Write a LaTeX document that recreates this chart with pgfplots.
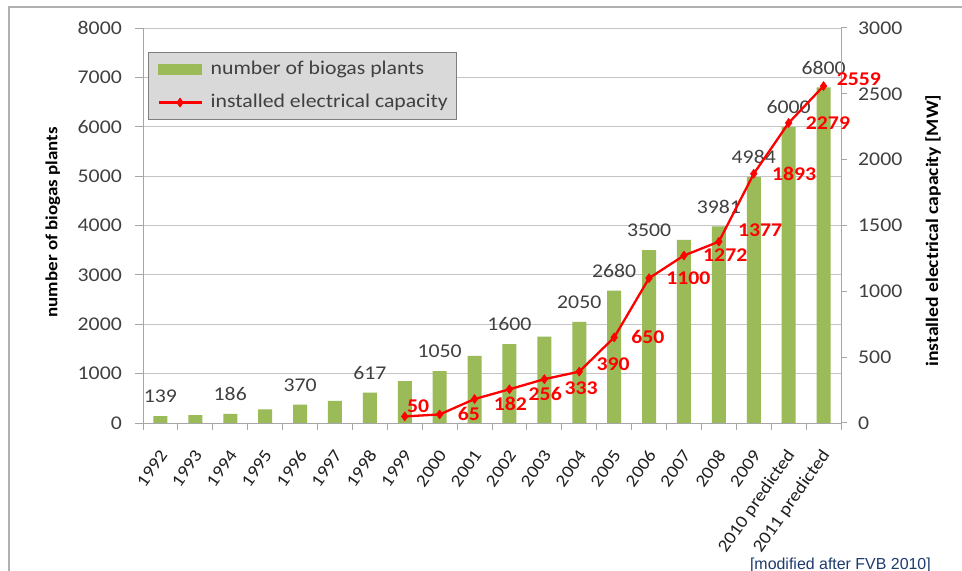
\documentclass[border=0pt]{standalone}
\usepackage{pgfplots}
\pgfplotsset{compat=1.18}
\usepackage{fontspec}
\setmainfont{Carlito}[FakeStretch=1.12]
\newfontfamily\creditfont{Liberation Sans}
\definecolor{bargreen}{HTML}{9BBB59}
\definecolor{axisgrey}{HTML}{A6A6A6}
\definecolor{gridgrey}{HTML}{C4C4C4}
\definecolor{tickcol}{HTML}{404040}
\definecolor{legfill}{HTML}{D9D9D9}
\definecolor{legdraw}{HTML}{7F7F7F}
\definecolor{framegrey}{HTML}{B0B0B0}
\definecolor{creditblue}{HTML}{1F3A6E}
\definecolor{capred}{HTML}{FF0000}

\pgfplotsset{
  /pgf/number format/1000 sep={},
  /pgf/number format/assume math mode=true,
  commonaxis/.style={
    at={(143bp,148bp)}, anchor=south west,
    scale only axis, width=698bp, height=395bp,
    xmin=-0.5, xmax=19.5,
    axis line style={draw=axisgrey, line width=1bp, -},
    tick style={draw=axisgrey, line width=1bp},
    tick align=outside,
    every tick label/.append style={font=\fontsize{19.5}{23}\selectfont, text=tickcol},
  },
  linelegend/.style={legend image code/.code={\draw[capred, line width=2.3bp, mark=diamond*, mark size=4.5bp, mark options={solid, line width=0.5bp, fill=capred}, mark repeat=2, mark phase=2] plot coordinates {(0bp,0bp) (21.5bp,0bp) (43bp,0bp)};}},
  barlegend/.style={legend image code/.code={\fill[bargreen] (0bp,-5bp) rectangle (43bp,5bp);}},
}

\begin{document}
\begin{tikzpicture}
\useasboundingbox (0,0) rectangle (962bp,571bp);
\fill[white] (0,0) rectangle (962bp,571bp);
\draw[framegrey, line width=1.3bp] (9bp,0bp) -- (9bp,564bp) -- (962bp,564bp);

\begin{axis}[
  commonaxis,
  ymin=0, ymax=8000,
  axis x line*=bottom, axis y line*=left,
  xtick={0,...,19},
  xticklabels={1992,1993,1994,1995,1996,1997,1998,1999,2000,2001,2002,2003,2004,2005,2006,2007,2008,2009,2010 predicted,2011 predicted},
  major x tick style={draw=none},
  minor xtick={-0.5,0.5,...,19.5},
  minor tick length=7bp,
  major tick length=8bp,
  ytick={0,1000,...,8000},
  ymajorgrids, grid style={draw=gridgrey, line width=1bp},
  xticklabel style={xshift=3bp, yshift=-21bp, rotate=55, anchor=east, inner sep=0pt, font=\fontsize{17.6}{20}\selectfont, text=black!88},
  yticklabel style={inner sep=0pt, xshift=-13bp},
  ylabel={number of biogas plants},
  ylabel style={font=\fontsize{17}{20}\selectfont\bfseries, text=black, at={(axis description cs:-0.129,0.508)}, anchor=center},
]
\addplot[ybar, bar width=14bp, fill=bargreen, draw=none] coordinates {
  (0,139) (1,159) (2,186) (3,274) (4,370) (5,450) (6,617) (7,850) (8,1050) (9,1360)
  (10,1600) (11,1750) (12,2050) (13,2680) (14,3500) (15,3711) (16,3981) (17,4984) (18,6000) (19,6800)
};
\addplot[draw=none, nodes near coords,
  nodes near coords style={anchor=center, inner sep=0pt, yshift=19.5bp, font=\fontsize{19.5}{23}\selectfont, text=tickcol}]
  coordinates {
  (0,139) (2,186) (4,370) (6,617) (8,1050) (10,1600) (12,2050) (13,2680) (14,3500) (16,3981) (17,4984) (18,6000) (19,6800)
};
\end{axis}

\begin{axis}[
  commonaxis,
  ymin=0, ymax=3000,
  axis y line*=right, axis x line=none,
  ytick={0,500,...,3000},
  major tick length=6bp,
  yticklabel style={inner sep=0pt, xshift=11bp},
  ylabel={installed electrical capacity [MW]},
  ylabel style={font=\fontsize{17.6}{20}\selectfont\bfseries, text=black, at={(axis description cs:1.132,0.487)}, anchor=center},
  legend style={at={(axis description cs:0.007,0.939)}, anchor=north west,
    fill=legfill, draw=legdraw, line width=1bp,
    font=\fontsize{19.5}{23}\selectfont, text=tickcol,
    inner xsep=9bp, inner ysep=8bp, row sep=15bp, column sep=8bp,
    nodes={inner sep=0pt, text height=14bp, text depth=4bp}},
  legend cell align=left,
]
\addlegendimage{barlegend}
\addlegendentry{number of biogas plants}
\addplot[capred, line width=2.3bp, mark=diamond*, mark size=4.5bp,
  mark options={solid, line width=0.5bp, fill=capred},
  linelegend,
  visualization depends on={\thisrow{dx} \as \dx},
  visualization depends on={\thisrow{dy} \as \dy},
  nodes near coords,
  nodes near coords style={anchor=west, inner sep=0pt, xshift=\dx bp, yshift=\dy bp, font=\fontsize{19.5}{23}\selectfont\bfseries, text=capred}]
  table {
x y dx dy
7 50 2 10
8 65 18 0
9 182 19 -5
10 256 19 -5
11 333 20 -9
12 390 17 7
13 650 17 0
14 1100 17 0
15 1272 19 0
16 1377 19 11
17 1893 18 0
18 2279 17 0
19 2559 13 7
};
\addlegendentry{installed electrical capacity}
\end{axis}

\node[anchor=east, inner sep=0pt, font=\creditfont\fontsize{16}{19}\selectfont, text=creditblue] at (931bp,6bp) {[modified after FVB 2010]};
\end{tikzpicture}
\end{document}
